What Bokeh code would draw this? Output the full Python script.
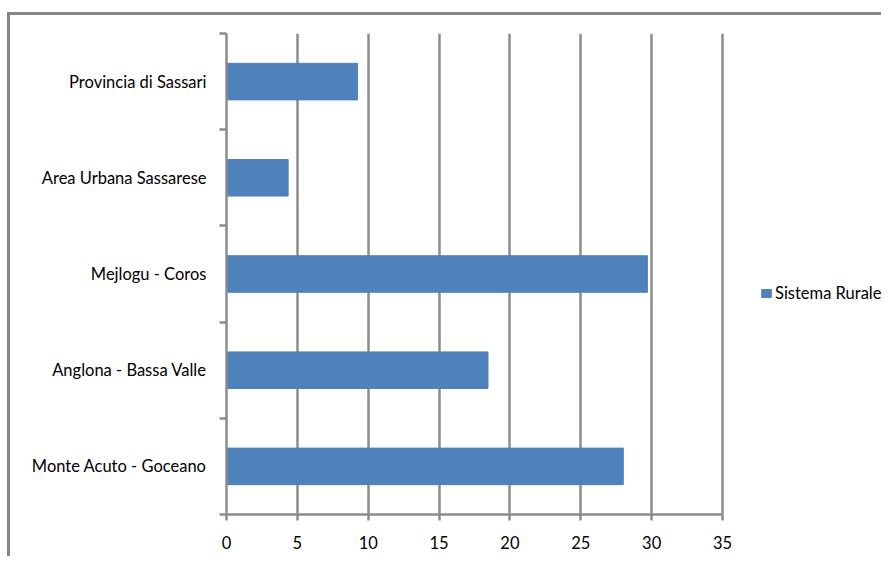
from bokeh.plotting import figure
from bokeh.models import FixedTicker, Legend, LegendItem, ColumnDataSource
from bokeh.embed import file_html
from bokeh.resources import INLINE

categories = ["Monte Acuto - Goceano", "Anglona - Bassa Valle", "Mejlogu - Coros",
              "Area Urbana Sassarese", "Provincia di Sassari"]
values = [28.0, 18.45, 29.7, 4.35, 9.25]
series_name = "Sistema Rurale"
x_ticks = [0, 5, 10, 15, 20, 25, 30, 35]

pos = [i + 0.5 for i in range(len(categories))]
src = ColumnDataSource(dict(y=pos, v=values, cat=categories))

FONT = "Lato"
FS = "16.5px"
GRAY = "#8c8c8c"

# x range extends past the last tick so that the legend (drawn in the frame) has room
p = figure(width=874, height=544, x_range=(0, 46.43), y_range=(0, len(categories)),
           output_backend="svg", toolbar_location=None,
           min_border_left=216, min_border_top=18, min_border_bottom=45, min_border_right=0)
p.styles = {"border-top": "3px solid #878787", "border-left": "3px solid #878787",
            "margin-top": "12px", "margin-left": "7px"}
p.outline_line_color = None

r = p.hbar(y="y", left=0, right="v", height=0.38, source=src,
           fill_color="#4f81bd", line_color="#4f81bd")

# x axis
p.xaxis.ticker = FixedTicker(ticks=x_ticks)
p.xaxis.bounds = (x_ticks[0], x_ticks[-1])
p.xaxis.axis_line_color = GRAY
p.xaxis.axis_line_width = 2.5
p.xaxis.major_tick_line_color = GRAY
p.xaxis.major_tick_line_width = 2.5
p.xaxis.major_tick_out = 6
p.xaxis.major_tick_in = 0
p.xaxis.minor_tick_line_color = None
p.xaxis.major_label_text_font = FONT
p.xaxis.major_label_text_font_size = FS
p.xaxis.major_label_text_color = "#000000"
p.xaxis.major_label_standoff = 15

# y axis
p.yaxis.ticker = FixedTicker(ticks=pos, minor_ticks=list(range(len(categories) + 1)))
p.yaxis.major_label_overrides = {pp: c for pp, c in zip(pos, categories)}
p.yaxis.axis_line_color = GRAY
p.yaxis.axis_line_width = 2.5
p.yaxis.major_tick_line_color = None
p.yaxis.major_tick_out = 0
p.yaxis.major_tick_in = 0
p.yaxis.minor_tick_line_color = GRAY
p.yaxis.minor_tick_line_width = 2.5
p.yaxis.minor_tick_out = 7
p.yaxis.minor_tick_in = 0
p.yaxis.major_label_text_font = FONT
p.yaxis.major_label_text_font_size = FS
p.yaxis.major_label_text_color = "#000000"
p.yaxis.major_label_standoff = 13

p.xgrid.ticker = FixedTicker(ticks=x_ticks)
p.xgrid.grid_line_color = GRAY
p.xgrid.grid_line_width = 2.5
p.ygrid.grid_line_color = None

legend = Legend(items=[LegendItem(label=series_name, renderers=[r])],
                location=(534, 211), border_line_color=None,
                label_text_font=FONT, label_text_font_size=FS,
                label_text_color="#000000",
                glyph_width=12, glyph_height=10, label_standoff=3,
                padding=0, margin=0, background_fill_alpha=0)
p.add_layout(legend, "center")

open("out.html", "w").write(file_html(p, INLINE))
